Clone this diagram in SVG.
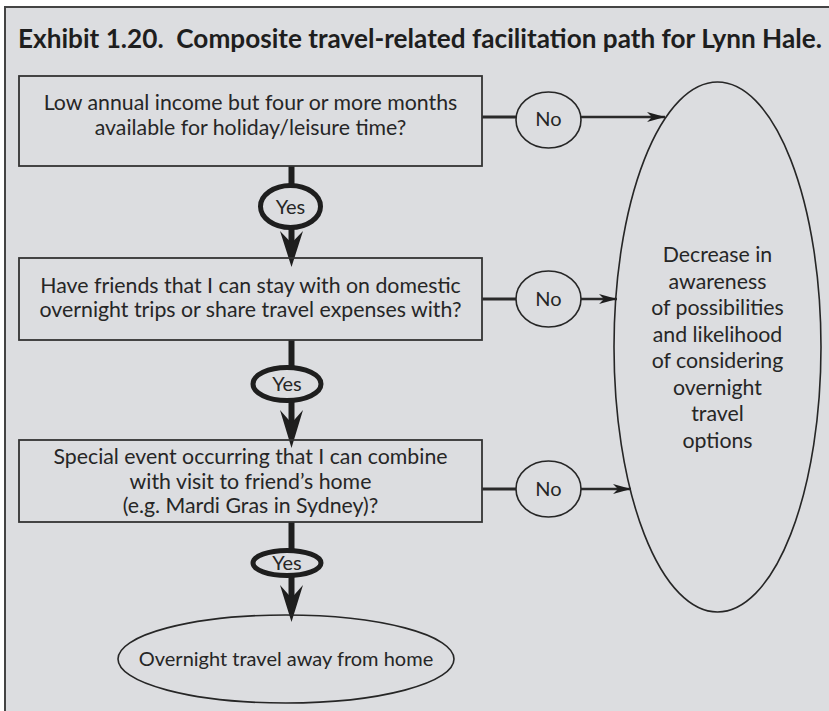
<svg xmlns="http://www.w3.org/2000/svg" width="829" height="711" viewBox="0 0 829 711">
<defs>
<style>
.t{font-family:Lato,"Liberation Sans",sans-serif;font-size:21.3px;fill:#262626;text-anchor:middle}
.s{font-size:20px}
.box{fill:none;stroke:#333;stroke-width:1.8}
.thin{fill:none;stroke:#262626;stroke-width:1.6}
.yes{fill:none;stroke:#1e1e1e;stroke-width:5}
.shaft{stroke:#1e1e1e;stroke-width:6;fill:none}
.conn{stroke:#2a2a2a;stroke-width:3;fill:none}
.conn2{stroke:#2a2a2a;stroke-width:2.4;fill:none}
.head{fill:#1e1e1e}
</style>
<marker id="ah" viewBox="0 0 18 10" refX="18" refY="5" markerWidth="18" markerHeight="10" markerUnits="userSpaceOnUse" orient="auto">
<path d="M0,0 L18,5 L0,10 L5,5 Z" fill="#1e1e1e"/>
</marker>
</defs>
<rect x="0" y="0" width="829" height="711" fill="#ffffff"/>
<rect x="5" y="7" width="840" height="720" fill="#dcdde0" stroke="#444" stroke-width="2"/>
<text transform="translate(18,48) scale(0.84,1)" x="0" y="0" font-family="Lato,'Liberation Sans',sans-serif" font-weight="bold" font-size="27" fill="#1e1e1e" textLength="957" lengthAdjust="spacingAndGlyphs">Exhibit 1.20.&#160; Composite travel-related facilitation path for Lynn Hale.</text>

<g id="connectors">
<line class="shaft" x1="291.5" y1="166" x2="291.5" y2="184"/>
<line class="shaft" x1="291.5" y1="229" x2="291.5" y2="243"/>
<polygon class="head" points="280,231 291.5,267 303,231 291.5,243"/>
<line class="shaft" x1="291.5" y1="340" x2="291.5" y2="366"/>
<line class="shaft" x1="291.5" y1="402" x2="291.5" y2="423"/>
<polygon class="head" points="280,410 291.5,448 303,410 291.5,423"/>
<line class="shaft" x1="291.5" y1="522" x2="291.5" y2="549"/>
<line class="shaft" x1="291.5" y1="577" x2="291.5" y2="598"/>
<polygon class="head" points="280,585 291.5,622 303,585 291.5,598"/>
<line class="conn" x1="482" y1="117" x2="516" y2="117"/>
<line class="conn2" x1="581" y1="117" x2="665" y2="117" marker-end="url(#ah)"/>
<line class="conn" x1="482" y1="299" x2="516" y2="299"/>
<line class="conn2" x1="581" y1="299" x2="617" y2="299" marker-end="url(#ah)"/>
<line class="conn" x1="482" y1="489" x2="516" y2="489"/>
<line class="conn2" x1="581" y1="489" x2="631" y2="489" marker-end="url(#ah)"/>
</g>

<g id="q1">
<rect class="box" x="19" y="76" width="463" height="90"/>
<text class="t" x="250.5" y="110">Low annual income but four or more months</text>
<text class="t" x="250.5" y="135">available for holiday/leisure time?</text>
</g>
<g id="q2">
<rect class="box" x="19" y="258" width="463" height="82"/>
<text class="t" x="250.5" y="293">Have friends that I can stay with on domestic</text>
<text class="t" x="250.5" y="317">overnight trips or share travel expenses with?</text>
</g>
<g id="q3">
<rect class="box" x="19" y="440" width="463" height="82"/>
<text class="t" x="250.5" y="464">Special event occurring that I can combine</text>
<text class="t" x="250.5" y="488.5">with visit to friend’s home</text>
<text class="t" x="250.5" y="513">(e.g. Mardi Gras in Sydney)?</text>
</g>
<g id="yes1">
<ellipse class="yes" cx="290.5" cy="206.5" rx="30" ry="21"/>
<text class="t s" x="290.5" y="213.5">Yes</text>
</g>
<g id="yes2">
<ellipse class="yes" cx="287" cy="384" rx="34" ry="16.5"/>
<text class="t s" x="287" y="391">Yes</text>
</g>
<g id="yes3">
<ellipse class="yes" cx="287" cy="563" rx="34" ry="12.5"/>
<text class="t s" x="287" y="570">Yes</text>
</g>
<g id="no1">
<ellipse class="thin" cx="548.5" cy="120" rx="32.5" ry="28"/>
<text class="t s" x="548.5" y="126">No</text>
</g>
<g id="no2">
<ellipse class="thin" cx="548.5" cy="299" rx="32.5" ry="28"/>
<text class="t s" x="548.5" y="306">No</text>
</g>
<g id="no3">
<ellipse class="thin" cx="548.5" cy="489" rx="32.5" ry="28"/>
<text class="t s" x="548.5" y="496">No</text>
</g>
<g id="decrease">
<ellipse class="thin" cx="717.5" cy="347" rx="103.5" ry="265"/>
<text class="t" x="717.5" y="262">Decrease in</text>
<text class="t" x="717.5" y="288.5">awareness</text>
<text class="t" x="717.5" y="315">of possibilities</text>
<text class="t" x="717.5" y="341.5">and likelihood</text>
<text class="t" x="717.5" y="368">of considering</text>
<text class="t" x="717.5" y="394.5">overnight</text>
<text class="t" x="717.5" y="421">travel</text>
<text class="t" x="717.5" y="447.5">options</text>
</g>
<g id="overnight">
<ellipse class="thin" cx="286" cy="659" rx="168" ry="44"/>
<text class="t s" x="286" y="666">Overnight travel away from home</text>
</g>
</svg>
